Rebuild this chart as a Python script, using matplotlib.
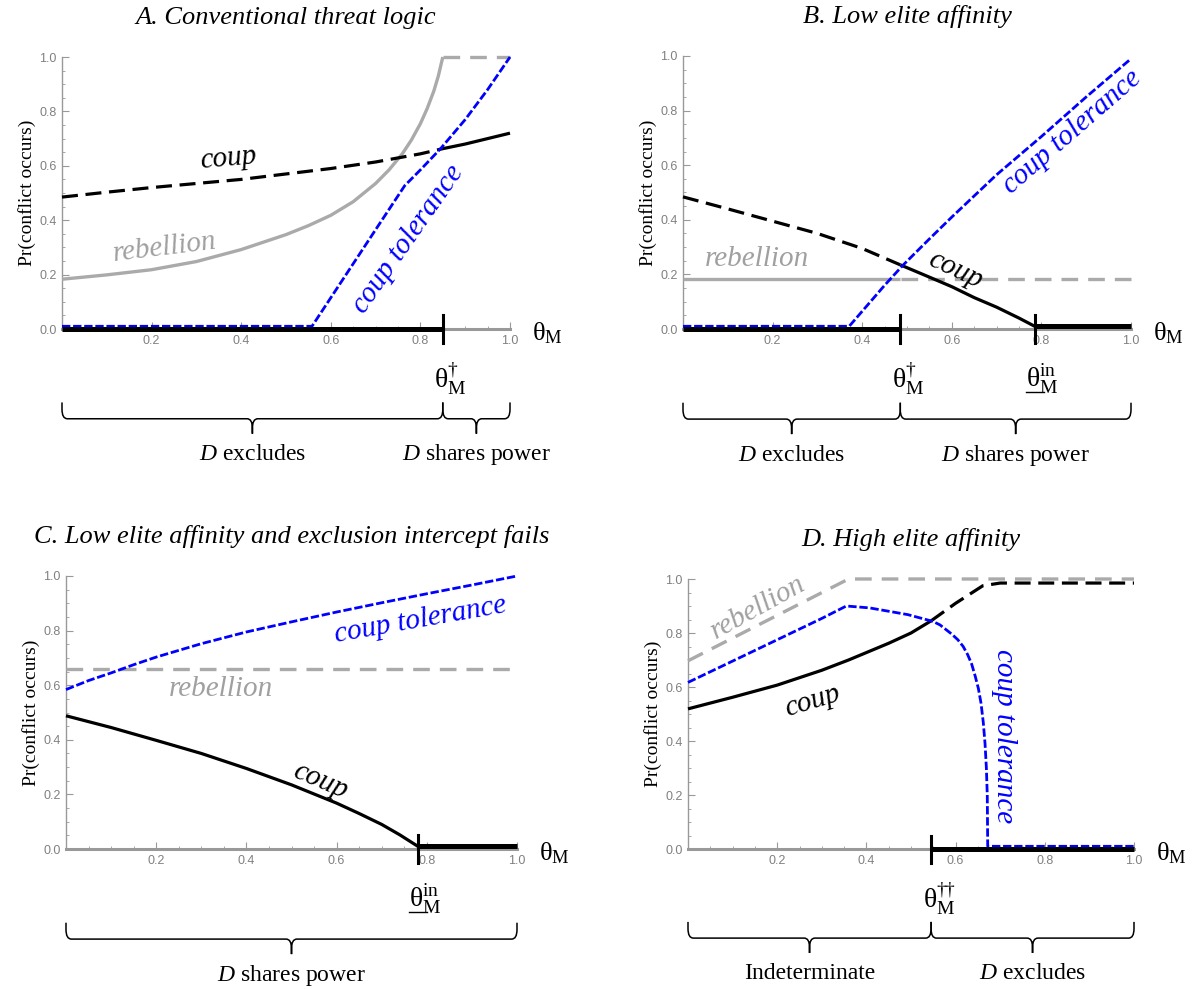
import matplotlib
matplotlib.use('Agg')
import matplotlib.pyplot as plt
import matplotlib.transforms as mtransforms
from matplotlib.path import Path
from matplotlib.patches import PathPatch
from matplotlib.lines import Line2D

plt.rcParams['mathtext.fontset'] = 'custom'
plt.rcParams['mathtext.rm'] = 'Liberation Serif'
plt.rcParams['mathtext.it'] = 'Liberation Serif:italic'
plt.rcParams['mathtext.bf'] = 'Liberation Serif:bold'

# ---------------- data ----------------
# Panel A: Conventional threat logic
a_theta_dag = 0.85
a_coup_x = [0, 0.1, 0.2, 0.3, 0.4, 0.5, 0.6, 0.7, 0.8, 0.85, 0.9, 1.0]
a_coup_y = [0.485, 0.503, 0.52, 0.535, 0.55, 0.57, 0.59, 0.614, 0.644, 0.663, 0.68, 0.72]
a_reb_x = [0, 0.1, 0.2, 0.3, 0.4, 0.5, 0.55, 0.6, 0.65, 0.7, 0.73, 0.76, 0.78, 0.8, 0.815, 0.83, 0.84, 0.85]
a_reb_y = [0.183, 0.199, 0.218, 0.248, 0.292, 0.347, 0.38, 0.418, 0.468, 0.535, 0.585, 0.645, 0.695,
           0.755, 0.81, 0.875, 0.93, 1.0]
a_reb_top_x = [0.85, 1.0]
a_reb_top_y = [1.0, 1.0]
a_tol_x = [0, 0.558, 0.6, 0.65, 0.7, 0.765, 0.8, 0.845, 0.9, 0.95, 1.0]
a_tol_y = [0.01, 0.01, 0.115, 0.24, 0.365, 0.527, 0.585, 0.663, 0.77, 0.88, 1.0]

# Panel B: Low elite affinity
b_theta_dag = 0.485
b_theta_in = 0.785
b_coup_x = [0, 0.1, 0.2, 0.3, 0.4, 0.485, 0.55, 0.6, 0.65, 0.7, 0.75, 0.785]
b_coup_y = [0.484, 0.44, 0.395, 0.35, 0.295, 0.235, 0.19, 0.155, 0.115, 0.08, 0.04, 0.01]
b_coup_flat_x = [0.785, 1.0]
b_coup_flat_y = [0.01, 0.01]
b_reb_x = [0, 1.0]
b_reb_y = [0.182, 0.182]
b_tol_x = [0, 0.371, 0.4, 0.45, 0.49, 0.55, 0.6, 0.7, 0.8, 0.9, 1.0]
b_tol_y = [0.01, 0.01, 0.065, 0.16, 0.232, 0.33, 0.41, 0.565, 0.705, 0.85, 0.99]

# Panel C: Low elite affinity and exclusion intercept fails
c_theta_in = 0.78
c_tol_x = [0, 0.05, 0.1, 0.15, 0.2, 0.3, 0.4, 0.5, 0.6, 0.7, 0.8, 0.9, 1.0]
c_tol_y = [0.584, 0.617, 0.645, 0.675, 0.703, 0.752, 0.795, 0.832, 0.868, 0.902, 0.935, 0.967, 1.0]
c_reb_x = [0, 1.0]
c_reb_y = [0.66, 0.66]
c_coup_x = [0, 0.1, 0.2, 0.3, 0.4, 0.5, 0.6, 0.65, 0.7, 0.74, 0.78]
c_coup_y = [0.488, 0.445, 0.398, 0.35, 0.295, 0.235, 0.168, 0.13, 0.09, 0.052, 0.01]
c_coup_flat_x = [0.78, 1.0]
c_coup_flat_y = [0.01, 0.01]

# Panel D: High elite affinity
d_theta_dd = 0.545
d_reb_x = [0, 0.36, 1.0]
d_reb_y = [0.697, 1.0, 1.0]
d_tol_x = [0, 0.1, 0.2, 0.3, 0.355, 0.407, 0.493, 0.549, 0.565, 0.579, 0.592, 0.605, 0.617, 0.627,
           0.636, 0.644, 0.651, 0.657, 0.662, 0.666, 0.669, 0.671, 0.672, 1.0]
d_tol_y = [0.617, 0.696, 0.775, 0.854, 0.90, 0.893, 0.868, 0.843, 0.83, 0.812, 0.795, 0.775, 0.75, 0.72,
           0.685, 0.64, 0.595, 0.54, 0.47, 0.39, 0.30, 0.20, 0.01, 0.01]
d_coup_x = [0, 0.1, 0.2, 0.3, 0.36, 0.45, 0.5, 0.545, 0.6, 0.661, 0.7, 0.8, 0.9, 1.0]
d_coup_y = [0.519, 0.562, 0.607, 0.662, 0.70, 0.762, 0.80, 0.845, 0.91, 0.975, 0.985, 0.985, 0.985, 0.985]

y_ticks = [0.0, 0.2, 0.4, 0.6, 0.8, 1.0]
x_ticks = [0.2, 0.4, 0.6, 0.8, 1.0]

titles = ['A. Conventional threat logic', 'B. Low elite affinity',
          'C. Low elite affinity and exclusion intercept fails', 'D. High elite affinity']

# ---------------- style ----------------
SERIF = 'Liberation Serif'
BLUE = '#0000ff'
GRAY = '#aaaaaa'
GRAYTXT = '#a0a0a0'
AXGRAY = '#999999'
LW_BLACK = 2.3
LW_GRAY = 2.4
LW_BLUE = 2.0
LW_BASE = 3.6
DASH_K = (0, (5.0, 2.4))
DASH_G = (0, (5.0, 3.0))
DASH_B = (0, (3.0, 1.0))
LBL = 21

W, H = 1201, 989
fig = plt.figure(figsize=(W / 100, H / 100), dpi=100)


def add_axes(l, r, t, b):
    return fig.add_axes([l / W, 1 - b / H, (r - l) / W, (b - t) / H])


axA = add_axes(62, 510, 57, 329)
axB = add_axes(683, 1131, 56, 329)
axC = add_axes(66, 517, 576, 849)
axD = add_axes(688, 1134, 579, 849)


def style(ax, title):
    ax.set_xlim(0, 1)
    ax.set_ylim(0, 1)
    for s in ['top', 'right']:
        ax.spines[s].set_visible(False)
    ax.spines['left'].set_color(AXGRAY)
    ax.spines['left'].set_linewidth(1.0)
    ax.spines['bottom'].set_color(AXGRAY)
    ax.spines['bottom'].set_linewidth(2.2)
    ax.set_yticks(y_ticks)
    ax.set_yticklabels(['%.1f' % v for v in y_ticks])
    ax.set_xticks(x_ticks)
    ax.set_xticklabels(['%.1f' % v for v in x_ticks])
    ax.set_xticks([i * 0.05 for i in range(1, 20)], minor=True)
    ax.set_yticks([i * 0.05 for i in range(1, 20)], minor=True)
    ax.tick_params(which='major', direction='in', length=5, width=0.8, color=AXGRAY,
                   labelsize=9, labelcolor='#808080', pad=4)
    ax.tick_params(which='minor', direction='in', length=2.5, width=0.6, color=AXGRAY)
    for lab in ax.get_xticklabels() + ax.get_yticklabels():
        lab.set_fontfamily('Liberation Sans')
    ax.set_ylabel('Pr(conflict occurs)', fontfamily=SERIF, fontsize=14, labelpad=2)
    ax.set_title(title, fontfamily=SERIF, style='italic', fontsize=19, pad=24)
    ax.annotate(r'$\mathrm{θ}_{\mathrm{M}}$', xy=(1, 0), xycoords='data', xytext=(16, -3),
                textcoords='offset points', ha='left', va='center', fontsize=19,
                annotation_clip=False)


def line(ax, x, y, color, lw, ls='-', z=3):
    ax.plot(x, y, color=color, lw=lw, ls=ls, clip_on=False, zorder=z, solid_capstyle='butt',
            dash_capstyle='butt', solid_joinstyle='round')


def split_line(ax, x, y, t, color, lw, ls_before, ls_after, z=3):
    xb = [v for v in x if v <= t]
    yb = [y[i] for i, v in enumerate(x) if v <= t]
    xa = [v for v in x if v >= t]
    ya = [y[i] for i, v in enumerate(x) if v >= t]
    line(ax, xb, yb, color, lw, ls_before, z)
    line(ax, xa, ya, color, lw, ls_after, z)


def threshold(ax, t, label, underline=False):
    ax.plot([t, t], [-0.05, 0.05], color='black', lw=2.2, clip_on=False, zorder=6)
    ax.annotate(label, xy=(t, 0), xycoords='data', xytext=(-6, -36),
                textcoords='offset points', ha='left', va='center', fontsize=20,
                annotation_clip=False)
    if underline:
        tr = (mtransforms.Affine2D().scale(1 / 72.) + fig.dpi_scale_trans +
              mtransforms.ScaledTranslation(t, 0, ax.transData))
        ax.add_line(Line2D([-6, 6.5], [-45, -45], transform=tr, color='black', lw=1.0,
                           clip_on=False))


def base(ax, x0, x1, y=0.0):
    line(ax, [x0, x1], [y, y], 'black', LW_BASE, '-', z=5)


def brace(ax, x0, x1, text, yt=-0.27, yl=-0.33, ytip=-0.385, ytext=-0.462):
    tr = mtransforms.blended_transform_factory(ax.transData, ax.transAxes)
    xm = (x0 + x1) / 2
    rx = 0.012
    ry = 0.035
    verts = [(x0, yt), (x0, yl + ry), (x0, yl), (x0 + rx, yl), (xm - rx, yl), (xm, yl), (xm, yl - ry),
             (xm, ytip),
             (x1, yt), (x1, yl + ry), (x1, yl), (x1 - rx, yl), (xm + rx, yl), (xm, yl), (xm, yl - ry),
             (xm, ytip)]
    codes = [Path.MOVETO, Path.LINETO, Path.CURVE3, Path.CURVE3, Path.LINETO, Path.CURVE3, Path.CURVE3,
             Path.LINETO,
             Path.MOVETO, Path.LINETO, Path.CURVE3, Path.CURVE3, Path.LINETO, Path.CURVE3, Path.CURVE3,
             Path.LINETO]
    p = PathPatch(Path(verts, codes), transform=tr, fill=False, lw=1.1, edgecolor='black',
                  clip_on=False)
    ax.add_patch(p)
    ax.text(xm, ytext, text, transform=tr, ha='center', va='center', fontsize=17,
            fontfamily=SERIF)


def label(ax, x, y, s, color, rot):
    ax.text(x, y, s, color=color, fontsize=LBL, fontfamily=SERIF, style='italic',
            rotation=rot, rotation_mode='anchor', ha='center', va='center', zorder=8)


TH_DAG = r'$\mathrm{θ}_{\mathrm{M}}^{\dagger}$'
TH_DD = r'$\mathrm{θ}_{\mathrm{M}}^{\dagger\!\!\dagger}$'
TH_IN = r'$\mathrm{θ}_{\mathrm{M}}^{\mathrm{in}}$'

# ---- Panel A ----
ax = axA
style(ax, titles[0])
line(ax, a_reb_x, a_reb_y, GRAY, LW_GRAY, '-')
line(ax, a_reb_top_x, a_reb_top_y, GRAY, LW_GRAY, DASH_G)
split_line(ax, a_coup_x, a_coup_y, a_theta_dag, 'black', LW_BLACK, DASH_K, '-')
line(ax, a_tol_x, a_tol_y, BLUE, LW_BLUE, DASH_B, z=4)
base(ax, 0, a_theta_dag)
threshold(ax, a_theta_dag, TH_DAG)
brace(ax, 0, a_theta_dag, r'$\mathit{D}$ excludes')
brace(ax, a_theta_dag, 1.0, r'$\mathit{D}$ shares power')
label(ax, 0.37, 0.625, 'coup', 'black', 5)
label(ax, 0.229, 0.30, 'rebellion', GRAYTXT, 7)
label(ax, 0.772, 0.33, 'coup tolerance', BLUE, 55)

# ---- Panel B ----
ax = axB
style(ax, titles[1])
split_line(ax, b_reb_x + [b_theta_dag], b_reb_y + [b_reb_y[0]], b_theta_dag, GRAY, LW_GRAY, '-', DASH_G)
split_line(ax, b_coup_x, b_coup_y, b_theta_dag, 'black', LW_BLACK, DASH_K, '-')
line(ax, b_tol_x, b_tol_y, BLUE, LW_BLUE, DASH_B, z=4)
base(ax, 0, b_theta_dag)
base(ax, b_coup_flat_x[0], b_coup_flat_x[1], b_coup_flat_y[0])
threshold(ax, b_theta_dag, TH_DAG)
threshold(ax, b_theta_in, TH_IN, underline=True)
brace(ax, 0, b_theta_dag, r'$\mathit{D}$ excludes')
brace(ax, b_theta_dag, 1.0, r'$\mathit{D}$ shares power')
label(ax, 0.165, 0.255, 'rebellion', GRAYTXT, 0)
label(ax, 0.607, 0.215, 'coup', 'black', -25)
label(ax, 0.869, 0.72, 'coup tolerance', BLUE, 41)

# ---- Panel C ----
ax = axC
style(ax, titles[2])
line(ax, c_reb_x, c_reb_y, GRAY, LW_GRAY, DASH_G)
line(ax, c_coup_x, c_coup_y, 'black', LW_BLACK, '-')
line(ax, c_tol_x, c_tol_y, BLUE, LW_BLUE, DASH_B, z=4)
base(ax, c_coup_flat_x[0], c_coup_flat_x[1], c_coup_flat_y[0])
threshold(ax, c_theta_in, TH_IN, underline=True)
brace(ax, 0, 1.0, r'$\mathit{D}$ shares power')
label(ax, 0.786, 0.838, 'coup tolerance', BLUE, 10)
label(ax, 0.344, 0.587, 'rebellion', GRAYTXT, 0)
label(ax, 0.564, 0.25, 'coup', 'black', -23)

# ---- Panel D ----
ax = axD
style(ax, titles[3])
line(ax, d_reb_x, d_reb_y, GRAY, LW_GRAY, DASH_G)
split_line(ax, d_coup_x, d_coup_y, d_theta_dd, 'black', LW_BLACK, '-', DASH_K)
line(ax, d_tol_x, d_tol_y, BLUE, LW_BLUE, DASH_B, z=4)
base(ax, d_theta_dd, 1.0)
threshold(ax, d_theta_dd, TH_DD)
brace(ax, 0, d_theta_dd, 'Indeterminate')
brace(ax, d_theta_dd, 1.0, r'$\mathit{D}$ excludes')
label(ax, 0.157, 0.893, 'rebellion', GRAYTXT, 29)
label(ax, 0.278, 0.547, 'coup', 'black', 17)
label(ax, 0.709, 0.417, 'coup tolerance', BLUE, -90)

fig.savefig('out.png', dpi=100)
